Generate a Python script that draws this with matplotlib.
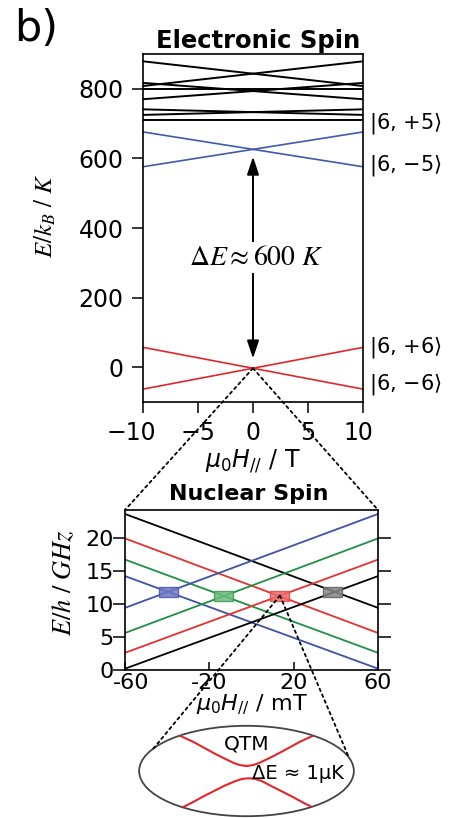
import matplotlib
matplotlib.use("Agg")
import matplotlib.pyplot as plt
import matplotlib.transforms as mtrans
from matplotlib.patches import Ellipse, Rectangle, ConnectionPatch
import numpy as np

plt.rcParams['font.family'] = ['DejaVu Sans']

# --- electronic spin levels (E/kB in K) at -10 T and +10 T ---
field_T = [-10, 10]
black_left = [879, 808, 817, 770, 799, 741, 725, 711]
black_right = [808, 879, 770, 817, 799, 725, 741, 711]
blue_left = [676, 576]
blue_right = [576, 676]
red_left = [57, -63]
red_right = [-63, 57]
state_labels = ['|6, +5', '|6, \u22125', '|6, +6', '|6, \u22126']
state_label_y = [699, 579, 57, -49]
gap_top, gap_bottom = 605, 25

# --- nuclear spin levels (E/h in GHz) at -60 mT and +60 mT ---
field_mT = [-60, 60]
nuc_colors = ['black', '#e8302f', '#1f9045', '#3d52a5']
nuc_down_left = [23.6, 19.9, 16.7, 14.2]
nuc_down_right = [9.4, 5.6, 2.6, 0.2]
nuc_up_left = [0.2, 2.6, 5.6, 9.4]
nuc_up_right = [14.2, 16.7, 19.9, 23.6]
box_x = [38.6, 13.5, -13.5, -39.5]
box_y = [11.8, 11.25, 11.25, 11.8]
box_faces = ['#858585', '#ee6a6a', '#6cbc7e', '#6e78c4']
box_edges = ['#606060', '#e04848', '#3a9a58', '#4858a8']

# --- QTM sketch: avoided crossing branches (arbitrary units) ---
qtm_x_up = [-0.62, -0.5, -0.4, -0.3, -0.2, -0.12, -0.06, 0.0,
            0.06, 0.12, 0.2, 0.3, 0.4, 0.5, 0.62]
qtm_y_up = [0.78, 0.65, 0.52, 0.39, 0.27, 0.18, 0.13, 0.11,
            0.13, 0.18, 0.27, 0.39, 0.52, 0.65, 0.78]
qtm_x_low = [-0.6, -0.5, -0.4, -0.3, -0.2, -0.1, -0.04, 0.02,
             0.08, 0.14, 0.22, 0.32, 0.42, 0.52, 0.62]
qtm_y_low = [-0.81, -0.69, -0.56, -0.44, -0.32, -0.22, -0.175, -0.16,
             -0.175, -0.22, -0.32, -0.44, -0.56, -0.69, -0.81]

W, H = 449, 818
fig = plt.figure(figsize=(W / 100, H / 100), dpi=100)

def frame(x0, y0, x1, y1):
    # pixel box (top-left origin) -> figure fraction rect
    return [x0 / W, 1 - y1 / H, (x1 - x0) / W, (y1 - y0) / H]

def nudge(label, dx_px):
    label.set_transform(label.get_transform() +
                        mtrans.ScaledTranslation(dx_px / 100, 0, fig.dpi_scale_trans))

ax1 = fig.add_axes(frame(143, 54, 363, 402))
ax2 = fig.add_axes(frame(125, 510, 378, 670))
ax3 = fig.add_axes(frame(137, 724, 356, 818))

# ---------------- electronic spin ----------------
for l, r in zip(black_left, black_right):
    ax1.plot(field_T, [l, r], color='black', lw=1.4)
for l, r in zip(blue_left, blue_right):
    ax1.plot(field_T, [l, r], color='#3f5aa8', lw=1.2)
for l, r in zip(red_left, red_right):
    ax1.plot(field_T, [l, r], color='#e3262b', lw=1.2)

ax1.set_xlim(-10, 10)
ax1.set_ylim(-100, 900)
ax1.set_xticks([-10, -5, 0, 5, 10])
ax1.set_yticks([0, 200, 400, 600, 800])
ax1.tick_params(direction='out', length=8, width=1.1, labelsize=17, pad=6)
for s in ax1.spines.values():
    s.set_linewidth(1.2)
xl = ax1.get_xticklabels()
nudge(xl[0], -12)
nudge(xl[-1], -5)

for lab, y in zip(state_labels, state_label_y):
    ax1.text(10.55, y, lab + r'$\rangle$', fontsize=15, va='center', ha='left',
             math_fontfamily='dejavusans', clip_on=False)

ax1.annotate('', xy=(0, gap_top), xytext=(0, gap_bottom),
             arrowprops=dict(arrowstyle='<|-|>,head_length=0.6,head_width=0.2',
                             color='black', lw=1.4, mutation_scale=18,
                             shrinkA=0, shrinkB=0))
ax1.text(0.3, 316, r'$\mathit{\Delta E}\approx 600\ \mathit{K}$', fontsize=20,
         ha='center', va='center', math_fontfamily='stix',
         bbox=dict(boxstyle='square,pad=0.05', fc='white', ec='none'))

ax1.set_xlabel(r'$\mu_0H_{//}$ / T', fontsize=17, labelpad=2,
               math_fontfamily='dejavusans')

fig.text(45 / W, 1 - 216 / H, r'$E/k_B\ /\ K$', rotation=90, fontsize=18,
         ha='center', va='center', math_fontfamily='stix')
fig.text(258 / W, 1 - 41 / H, 'Electronic Spin', fontsize=17.5,
         fontweight='bold', ha='center', va='center')
fig.text(14 / W, 1 - 29 / H, 'b)', fontsize=31, ha='left', va='center')

# ---------------- nuclear spin ----------------
for c, l, r in zip(nuc_colors, nuc_down_left, nuc_down_right):
    ax2.plot(field_mT, [l, r], color=c, lw=1.3)
for c, l, r in zip(nuc_colors, nuc_up_left, nuc_up_right):
    ax2.plot(field_mT, [l, r], color=c, lw=1.3)
for bx, by, fc, ec in zip(box_x, box_y, box_faces, box_edges):
    ax2.add_patch(Rectangle((bx - 4.5, by - 0.75), 9, 1.5, fc=fc, ec=ec,
                            alpha=0.85, lw=1, zorder=3))

ax2.set_xlim(-60, 60)
ax2.set_ylim(0, 24.2)
ax2.set_xticks([-60, -20, 20, 60])
ax2.set_xticklabels(['-60', '-20', '20', '60'])
ax2.set_yticks([0, 5, 10, 15, 20])
ax2.tick_params(axis='y', direction='out', length=9, width=1.1, left=True,
                right=True, labelsize=16, pad=-1)
ax2.tick_params(axis='x', direction='in', length=6, width=1.1, labelsize=16, pad=2)
for s in ax2.spines.values():
    s.set_linewidth(1.2)
nudge(ax2.get_xticklabels()[0], 6)
ax2.set_xlabel(r'$\mu_0H_{//}$ / mT', fontsize=16, labelpad=0,
               math_fontfamily='dejavusans')
fig.text(64 / W, 1 - 583 / H, r'$E/h\ /\ GHz$', rotation=90, fontsize=19,
         ha='center', va='center', math_fontfamily='stix')
fig.text(249 / W, 1 - 494 / H, 'Nuclear Spin', fontsize=16,
         fontweight='bold', ha='center', va='center')

# ---------------- QTM ellipse ----------------
ax3.set_xlim(-1.02, 1.02)
ax3.set_ylim(-1.04, 1.04)
ax3.axis('off')
ell = Ellipse((0, 0), 2, 2, fc='none', ec='#444444', lw=1.3)
ax3.add_patch(ell)
l1, = ax3.plot(qtm_x_up, qtm_y_up, color='#e3262b', lw=1.5)
l2, = ax3.plot(qtm_x_low, qtm_y_low, color='#e3262b', lw=1.5)
for ln in (l1, l2):
    ln.set_clip_path(ell)
ax3.text(0.0, 0.6, 'QTM', fontsize=14.5, ha='center', va='center')
ax3.text(0.48, -0.05, '\u0394E \u2248 1\u03bcK', fontsize=14, ha='center', va='center')

# ---------------- dotted zoom connectors ----------------
dot = dict(color='black', lw=1.3, linestyle=(0, (1.5, 2.0)))
for corner in [(0, 1), (1, 1)]:
    fig.add_artist(ConnectionPatch(xyA=(0, -3), coordsA=ax1.transData,
                                   xyB=corner, coordsB=ax2.transAxes, **dot))
for ang in [150, 17.5]:
    t = np.deg2rad(ang)
    fig.add_artist(ConnectionPatch(xyA=(13.5, 11.25), coordsA=ax2.transData,
                                   xyB=(np.cos(t), np.sin(t)), coordsB=ax3.transData,
                                   **dot))

fig.savefig('out.png', dpi=100)
